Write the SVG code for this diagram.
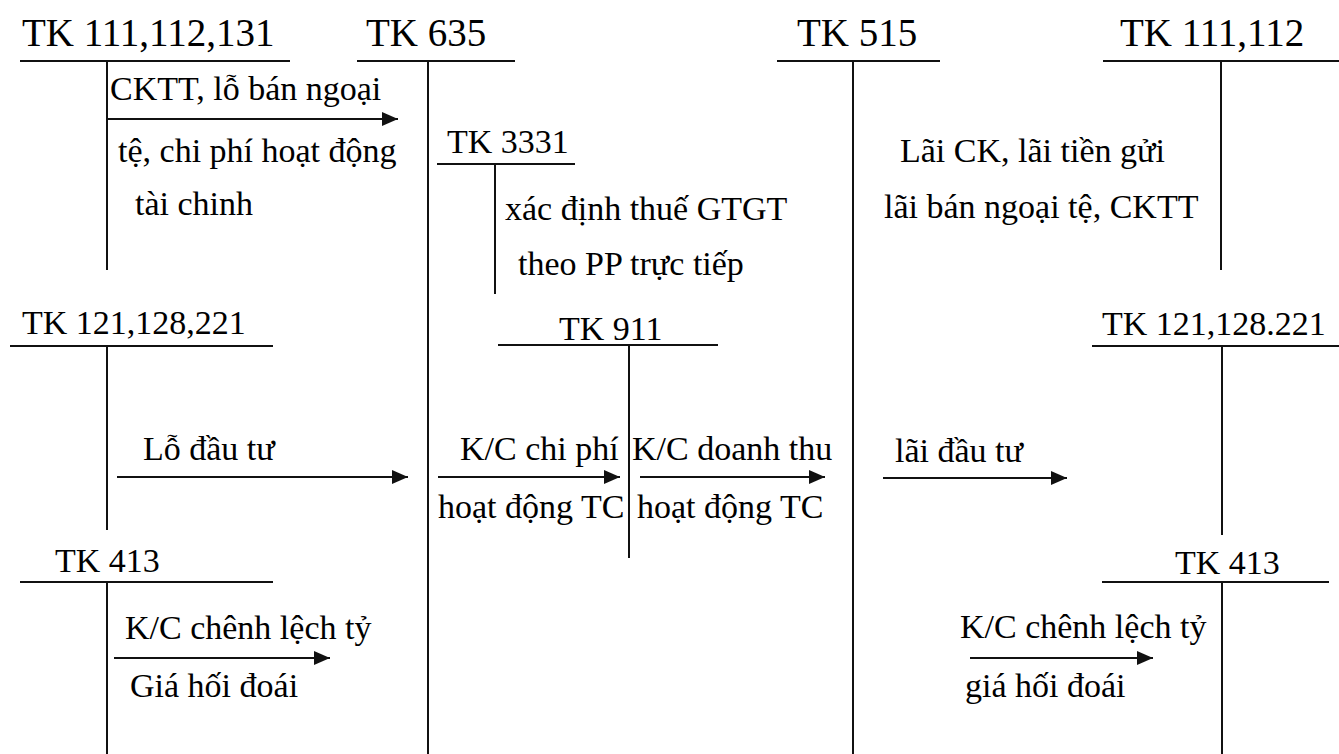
<svg xmlns="http://www.w3.org/2000/svg" width="1339" height="754" viewBox="0 0 1339 754">
  <style>
    .acct line { stroke: #111; stroke-width: 2; }
    .flow { stroke: #111; stroke-width: 2; fill: none; marker-end: url(#head); }
  </style>
  <defs>
    <marker id="head" markerUnits="userSpaceOnUse" markerWidth="16" markerHeight="14" refX="16" refY="7" orient="auto">
      <path d="M0 0 L16 7 L0 14 Z" fill="#111"/>
    </marker>
  </defs>
  <rect width="1339" height="754" fill="#fff"/>

  <!-- T-accounts: title, top rule, centre stem -->
  <g id="tk111-112-131" class="acct">
    <text x="22" y="46" font-size="39" font-family="Liberation Serif">TK 111,112,131</text>
    <line x1="20" y1="61" x2="290" y2="61"/>
    <line x1="107" y1="61" x2="107" y2="270"/>
  </g>
  <g id="tk635" class="acct">
    <text x="366" y="46" font-size="39" font-family="Liberation Serif">TK 635</text>
    <line x1="357" y1="61" x2="515" y2="61"/>
    <line x1="428" y1="61" x2="428" y2="754"/>
  </g>
  <g id="tk3331" class="acct">
    <text x="447" y="153" font-size="34" font-family="Liberation Serif">TK 3331</text>
    <line x1="437" y1="164" x2="575" y2="164"/>
    <line x1="495" y1="164" x2="495" y2="294"/>
  </g>
  <g id="tk515" class="acct">
    <text x="797" y="46" font-size="39" font-family="Liberation Serif">TK 515</text>
    <line x1="777" y1="61" x2="940" y2="61"/>
    <line x1="853" y1="61" x2="853" y2="754"/>
  </g>
  <g id="tk111-112" class="acct">
    <text x="1120" y="46" font-size="39" font-family="Liberation Serif">TK 111,112</text>
    <line x1="1103" y1="61" x2="1339" y2="61"/>
    <line x1="1221" y1="61" x2="1221" y2="270"/>
  </g>
  <g id="tk121-128-221" class="acct">
    <text x="22" y="334" font-size="34" font-family="Liberation Serif">TK 121,128,221</text>
    <line x1="10" y1="346" x2="273" y2="346"/>
    <line x1="107" y1="346" x2="107" y2="530"/>
  </g>
  <g id="tk911" class="acct">
    <text x="559" y="340" font-size="34" font-family="Liberation Serif">TK 911</text>
    <line x1="498" y1="345" x2="718" y2="345"/>
    <line x1="629" y1="345" x2="629" y2="558"/>
  </g>
  <g id="tk121-128-221-r" class="acct">
    <text x="1102" y="335" font-size="34" font-family="Liberation Serif">TK 121,128.221</text>
    <line x1="1092" y1="346" x2="1339" y2="346"/>
    <line x1="1222" y1="346" x2="1222" y2="535"/>
  </g>
  <g id="tk413" class="acct">
    <text x="55" y="572" font-size="34" font-family="Liberation Serif">TK 413</text>
    <line x1="20" y1="582" x2="273" y2="582"/>
    <line x1="107" y1="582" x2="107" y2="754"/>
  </g>
  <g id="tk413-r" class="acct">
    <text x="1175" y="574" font-size="34" font-family="Liberation Serif">TK 413</text>
    <line x1="1102" y1="582" x2="1329" y2="582"/>
    <line x1="1222" y1="582" x2="1222" y2="754"/>
  </g>

  <!-- connectors -->
  <g id="connectors">
    <path class="flow" d="M108 119 H398"/>
    <path class="flow" d="M117 477 H408"/>
    <path class="flow" d="M438 477 H620"/>
    <path class="flow" d="M640 477 H825"/>
    <path class="flow" d="M883 478 H1067"/>
    <path class="flow" d="M114 658 H330"/>
    <path class="flow" d="M970 658 H1153"/>
  </g>

  <!-- entry descriptions -->
  <g id="labels" font-size="34" font-family="Liberation Serif">
    <text x="110" y="100">CKTT, lỗ bán ngoại</text>
    <text x="118" y="162">tệ, chi phí hoạt động</text>
    <text x="135" y="215">tài chinh</text>
    <text x="505" y="220">xác định thuế GTGT</text>
    <text x="518" y="275">theo PP trực tiếp</text>
    <text x="900" y="162">Lãi CK, lãi tiền gửi</text>
    <text x="884" y="218">lãi bán ngoại tệ, CKTT</text>
    <text x="143" y="460">Lỗ đầu tư</text>
    <text x="460" y="460">K/C chi phí</text>
    <text x="632" y="460">K/C doanh thu</text>
    <text x="438" y="518">hoạt động TC</text>
    <text x="637" y="518">hoạt động TC</text>
    <text x="895" y="462">lãi đầu tư</text>
    <text x="125" y="639">K/C chênh lệch tỷ</text>
    <text x="130" y="697">Giá hối đoái</text>
    <text x="960" y="638">K/C chênh lệch tỷ</text>
    <text x="965" y="697">giá hối đoái</text>
  </g>
</svg>
